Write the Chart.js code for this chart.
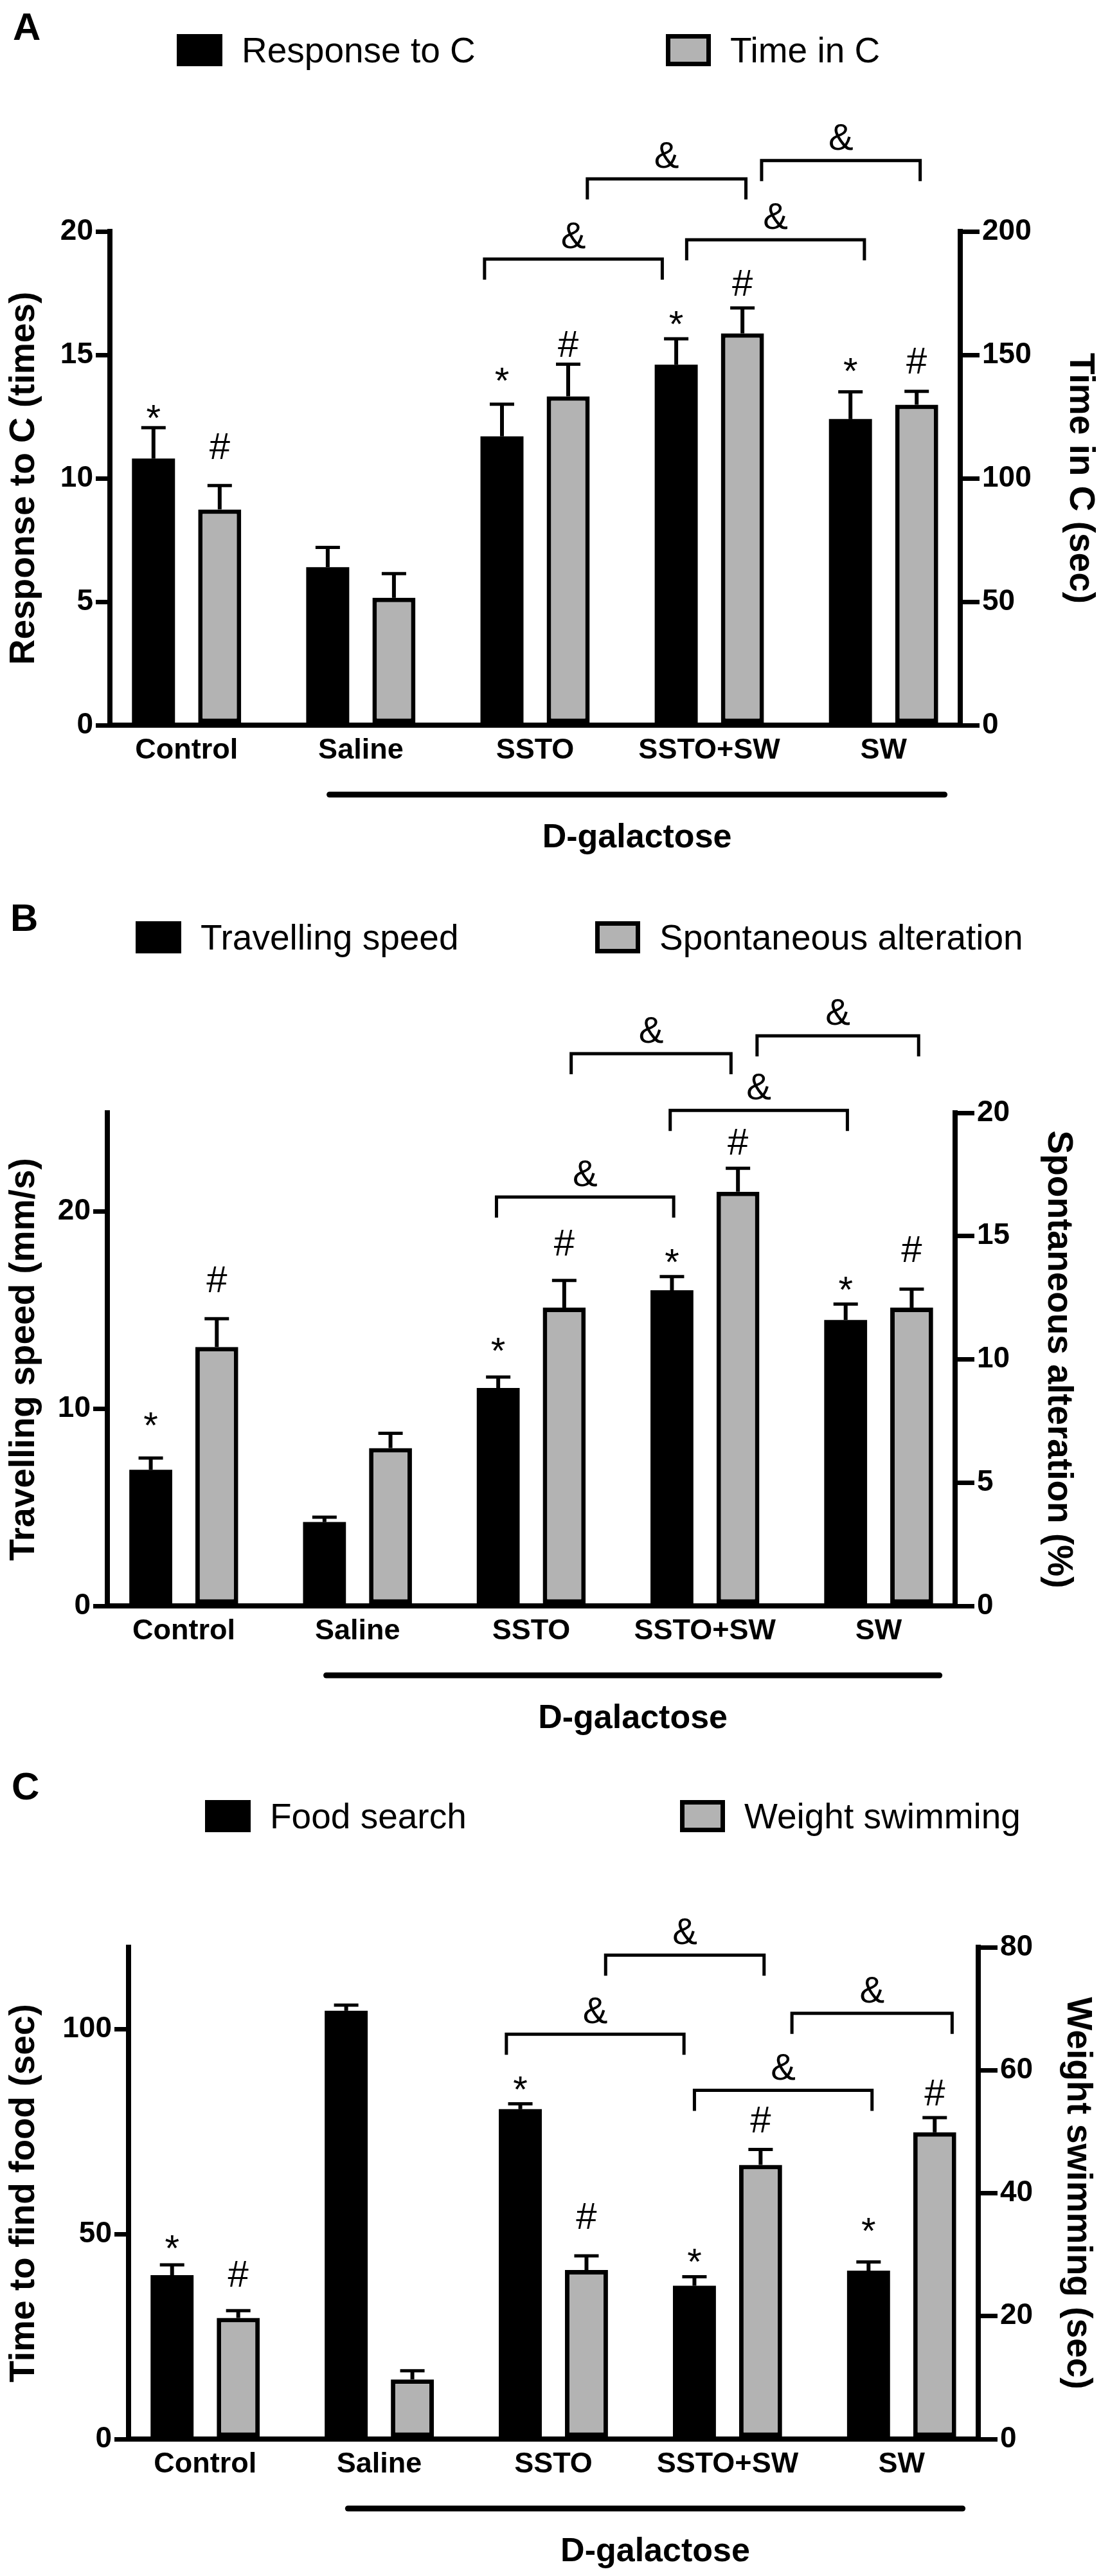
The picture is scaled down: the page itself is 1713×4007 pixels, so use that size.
<!DOCTYPE html>
<html lang="en">
<head>
  <meta charset="UTF-8" />
  <title>D-galactose behaviour tests</title>
  <script src="https://cdn.jsdelivr.net/npm/chart.js"></script>
  <style>
    html, body { margin: 0; padding: 0; background: #fff; }
    body { width: 1713px; height: 4007px; position: relative; overflow: hidden;
           font-family: "Liberation Sans", Arial, Helvetica, sans-serif; color: #000; }
    canvas { position: absolute; left: 0; }
    .letter { position: absolute; font-weight: bold; font-size: 60px; line-height: 60px; }
    .key { position: absolute; display: flex; align-items: center; height: 50px;
           font-size: 55px; line-height: 50px; white-space: nowrap; }
    .swatch { width: 71px; height: 50px; box-sizing: border-box; margin-right: 30px; }
    .swatch.black { background: #000; }
    .swatch.grey { width: 70px; background: #b3b3b3; border: 7px solid #000; }
  </style>
</head>
<body>
  <div class="letter" style="left:20px; top:12px">A</div>
  <div class="key" style="left:275px; top:53px"><span class="swatch black"></span>Response to C</div>
  <div class="key" style="left:1036px; top:53px"><span class="swatch grey"></span>Time in C</div>
  <canvas id="chartA" width="1713" height="1345" style="top:0px"></canvas>

  <div class="letter" style="left:16px; top:1398px">B</div>
  <div class="key" style="left:211px; top:1433px"><span class="swatch black"></span>Travelling speed</div>
  <div class="key" style="left:926px; top:1433px"><span class="swatch grey"></span>Spontaneous alteration</div>
  <canvas id="chartB" width="1713" height="1355" style="top:1345px"></canvas>

  <div class="letter" style="left:18px; top:2749px">C</div>
  <div class="key" style="left:319px; top:2800px"><span class="swatch black"></span>Food search</div>
  <div class="key" style="left:1058px; top:2800px"><span class="swatch grey"></span>Weight swimming</div>
  <canvas id="chartC" width="1713" height="1307" style="top:2700px"></canvas>

  <script>
    const groups = ['Control', 'Saline', 'SSTO', 'SSTO+SW', 'SW'];

    // A: response to C (times) and time in C (sec)
    const responseToC    = [10.8, 6.4, 11.7, 14.6, 12.4];
    const responseToCSem = [1.25, 0.8, 1.3, 1.05, 1.1];
    const timeInC        = [87.4, 51.6, 133.2, 158.7, 129.8];
    const timeInCSem     = [9.7, 9.8, 13.0, 10.3, 5.4];
    const ticksA  = [0, 5, 10, 15, 20];
    const ticksA2 = [0, 50, 100, 150, 200];

    // B: travelling speed (mm/s) and spontaneous alteration (%)
    const travellingSpeed    = [6.9, 4.25, 11.05, 16.0, 14.5];
    const travellingSpeedSem = [0.6, 0.25, 0.55, 0.7, 0.8];
    const spontAlteration    = [10.5, 6.4, 12.1, 16.8, 12.1];
    const spontAlterationSem = [1.15, 0.6, 1.1, 0.95, 0.75];
    const ticksB  = [0, 10, 20];
    const ticksB2 = [0, 5, 10, 15, 20];

    // C: time to find food (sec) and weight swimming (sec)
    const foodSearch        = [40.0, 104.5, 80.5, 37.4, 41.1];
    const foodSearchSem     = [2.5, 1.4, 1.3, 2.2, 2.1];
    const weightSwimming    = [19.7, 9.7, 27.5, 44.6, 49.9];
    const weightSwimmingSem = [1.2, 1.4, 2.3, 2.5, 2.4];
    const ticksC  = [0, 50, 100];
    const ticksC2 = [0, 20, 40, 60, 80];

    // significance marks: [group, series (0 black / 1 grey), symbol, level on left axis]
    const marksA = [[0,0,'*',12.78],[0,1,'#',11.32],[2,0,'*',14.3],[2,1,'#',15.47],
                    [3,0,'*',16.59],[3,1,'#',17.94],[4,0,'*',14.69],[4,1,'#',14.8]];
    const marksB = [[0,0,'*',9.59],[0,1,'#',16.59],[2,0,'*',13.37],[2,1,'#',18.46],
                    [3,0,'*',17.85],[3,1,'#',23.58],[4,0,'*',16.45],[4,1,'#',18.13]];
    const marksC = [[0,0,'*',48.6],[0,1,'#',40.5],[2,0,'*',87.3],[2,1,'#',54.6],
                    [3,0,'*',45.4],[3,1,'#',78.1],[4,0,'*',52.9],[4,1,'#',84.7]];

    // "&" brackets: [from group position, to group position, level on left axis]
    const bracketsA = [[1.71, 2.73, 18.88], [2.30, 3.21, 22.13], [3.30, 4.21, 22.87], [2.87, 3.89, 19.66]];
    const bracketsB = [[1.80, 2.82, 20.73], [2.23, 3.15, 28.0], [3.30, 4.23, 28.9], [2.80, 3.82, 25.12]];
    const bracketsC = [[1.73, 2.75, 98.8], [2.30, 3.21, 118.06], [3.37, 4.29, 103.9], [2.81, 3.83, 85.08]];

    const galactoseSpan = [0.82, 4.35];

    const FONT = '"Liberation Sans", Arial, Helvetica, sans-serif';
    Chart.defaults.font.family = FONT;
    Chart.defaults.color = '#000';

    const annotate = {
      id: 'annotate',
      afterDraw(chart, args, o) {
        const ctx = chart.ctx, x = chart.scales.x, y = chart.scales.y;
        ctx.save();
        ctx.strokeStyle = '#000';
        ctx.fillStyle = '#000';

        // error bars (upper half only)
        chart.data.datasets.forEach((ds, di) => {
          const meta = chart.getDatasetMeta(di);
          const ys = chart.scales[meta.yAxisID];
          meta.data.forEach((bar, i) => {
            const top = ys.getPixelForValue(ds.data[i].y + ds.sem[i]);
            ctx.lineWidth = 6;
            ctx.beginPath(); ctx.moveTo(bar.x, bar.y); ctx.lineTo(bar.x, top); ctx.stroke();
            ctx.lineWidth = 5;
            ctx.beginPath(); ctx.moveTo(bar.x - 19, top); ctx.lineTo(bar.x + 19, top); ctx.stroke();
          });
        });

        ctx.font = '58px ' + FONT;
        ctx.textAlign = 'center';
        ctx.textBaseline = 'alphabetic';
        o.marks.forEach(([g, s, sym, lvl]) => {
          const bx = chart.getDatasetMeta(s).data[g].x;
          const cy = y.getPixelForValue(lvl);
          ctx.fillText(sym, bx, cy + (sym === '*' ? 33 : 21));
        });

        ctx.lineWidth = 5;
        ctx.lineJoin = 'miter';
        o.brackets.forEach(([a, b, lvl]) => {
          const xa = x.getPixelForValue(a), xb = x.getPixelForValue(b);
          const yl = y.getPixelForValue(lvl);
          ctx.beginPath();
          ctx.moveTo(xa, yl + 32); ctx.lineTo(xa, yl); ctx.lineTo(xb, yl); ctx.lineTo(xb, yl + 32);
          ctx.stroke();
          ctx.fillText('&', (xa + xb) / 2, yl - 17);
        });

        const bottom = chart.chartArea.bottom;
        const [s0, s1] = o.span;
        ctx.lineWidth = 9;
        ctx.lineCap = 'round';
        ctx.beginPath();
        ctx.moveTo(x.getPixelForValue(s0), bottom + 108);
        ctx.lineTo(x.getPixelForValue(s1), bottom + 108);
        ctx.stroke();
        ctx.font = 'bold 52px ' + FONT;
        ctx.textBaseline = 'middle';
        ctx.fillText('D-galactose', x.getPixelForValue((s0 + s1) / 2), bottom + 176);
        ctx.restore();
      }
    };

    function yAxis(side, title, max, ticks, width, titlePad) {
      return {
        type: 'linear',
        position: side,
        min: 0,
        max: max,
        z: 1,
        afterBuildTicks: axis => { axis.ticks = ticks.map(v => ({ value: v })); },
        afterFit: scale => { scale.width = width; },
        grid: { drawOnChartArea: false, drawTicks: true, tickLength: side === 'left' ? 22 : 30,
                lineWidth: 7, color: '#000' },
        border: { display: true, width: 8, color: '#000' },
        ticks: { padding: 4, font: { size: 46, weight: 'bold' }, color: '#000' },
        title: { display: true, text: title, font: { size: 55, weight: 'bold' },
                 color: '#000', padding: { top: titlePad, bottom: 0 } }
      };
    }

    function makePanel(p) {
      return new Chart(document.getElementById(p.id), {
        type: 'bar',
        data: {
          datasets: [
            { label: p.names[0], data: p.black.map((v, i) => ({ x: i, y: v })), sem: p.blackSem,
              yAxisID: 'y', backgroundColor: '#000', borderWidth: 0 },
            { label: p.names[1], data: p.grey.map((v, i) => ({ x: i, y: v })), sem: p.greySem,
              yAxisID: 'y1', backgroundColor: '#b3b3b3', borderColor: '#000', borderWidth: 7,
              borderSkipped: false }
          ]
        },
        options: {
          responsive: false,
          devicePixelRatio: 1,
          animation: false,
          events: [],
          categoryPercentage: 0.76,
          barPercentage: 0.65,
          layout: { padding: { top: p.area.top, left: 0, right: 0, bottom: 0 } },
          scales: {
            x: {
              type: 'linear',
              min: -0.44,
              max: 4.44,
              offset: false,
              z: 1,
              afterBuildTicks: axis => { axis.ticks = groups.map((g, i) => ({ value: i })); },
              afterFit: scale => { scale.height = p.height - p.area.bottom; },
              grid: { display: false, drawTicks: false, offset: false },
              border: { display: true, width: 8, color: '#000' },
              ticks: { padding: 13, autoSkip: false, maxRotation: 0,
                       font: { size: 45, weight: 'bold' }, color: '#000',
                       callback: v => groups[v] }
            },
            y: yAxis('left', p.titles[0], p.max[0], p.ticks[0], p.area.left, 5),
            y1: yAxis('right', p.titles[1], p.max[1], p.ticks[1], 1713 - p.area.right, p.rightPad)
          },
          plugins: {
            legend: { display: false },
            tooltip: { enabled: false },
            annotate: { marks: p.marks, brackets: p.brackets, span: galactoseSpan }
          }
        },
        plugins: [annotate]
      });
    }

    makePanel({
      id: 'chartA', height: 1345,
      area: { left: 171, right: 1494, top: 360, bottom: 1128 },
      names: ['Response to C', 'Time in C'],
      black: responseToC, blackSem: responseToCSem, grey: timeInC, greySem: timeInCSem,
      titles: ['Response to C (times)', 'Time in C (sec)'],
      max: [20, 200], ticks: [ticksA, ticksA2], rightPad: 0,
      marks: marksA, brackets: bracketsA
    });

    makePanel({
      id: 'chartB', height: 1355,
      area: { left: 167, right: 1486, top: 386, bottom: 1153 },
      names: ['Travelling speed', 'Spontaneous alteration'],
      black: travellingSpeed, blackSem: travellingSpeedSem, grey: spontAlteration, greySem: spontAlterationSem,
      titles: ['Travelling speed (mm/s)', 'Spontaneous alteration (%)'],
      max: [25, 20], ticks: [ticksB, ticksB2], rightPad: 34,
      marks: marksB, brackets: bracketsB
    });

    makePanel({
      id: 'chartC', height: 1307,
      area: { left: 200, right: 1522, top: 329, bottom: 1094 },
      names: ['Food search', 'Weight swimming'],
      black: foodSearch, blackSem: foodSearchSem, grey: weightSwimming, greySem: weightSwimmingSem,
      titles: ['Time to find food (sec)', 'Weight swimming (sec)'],
      max: [120, 80], ticks: [ticksC, ticksC2], rightPad: 4,
      marks: marksC, brackets: bracketsC
    });
  </script>
</body>
</html>
